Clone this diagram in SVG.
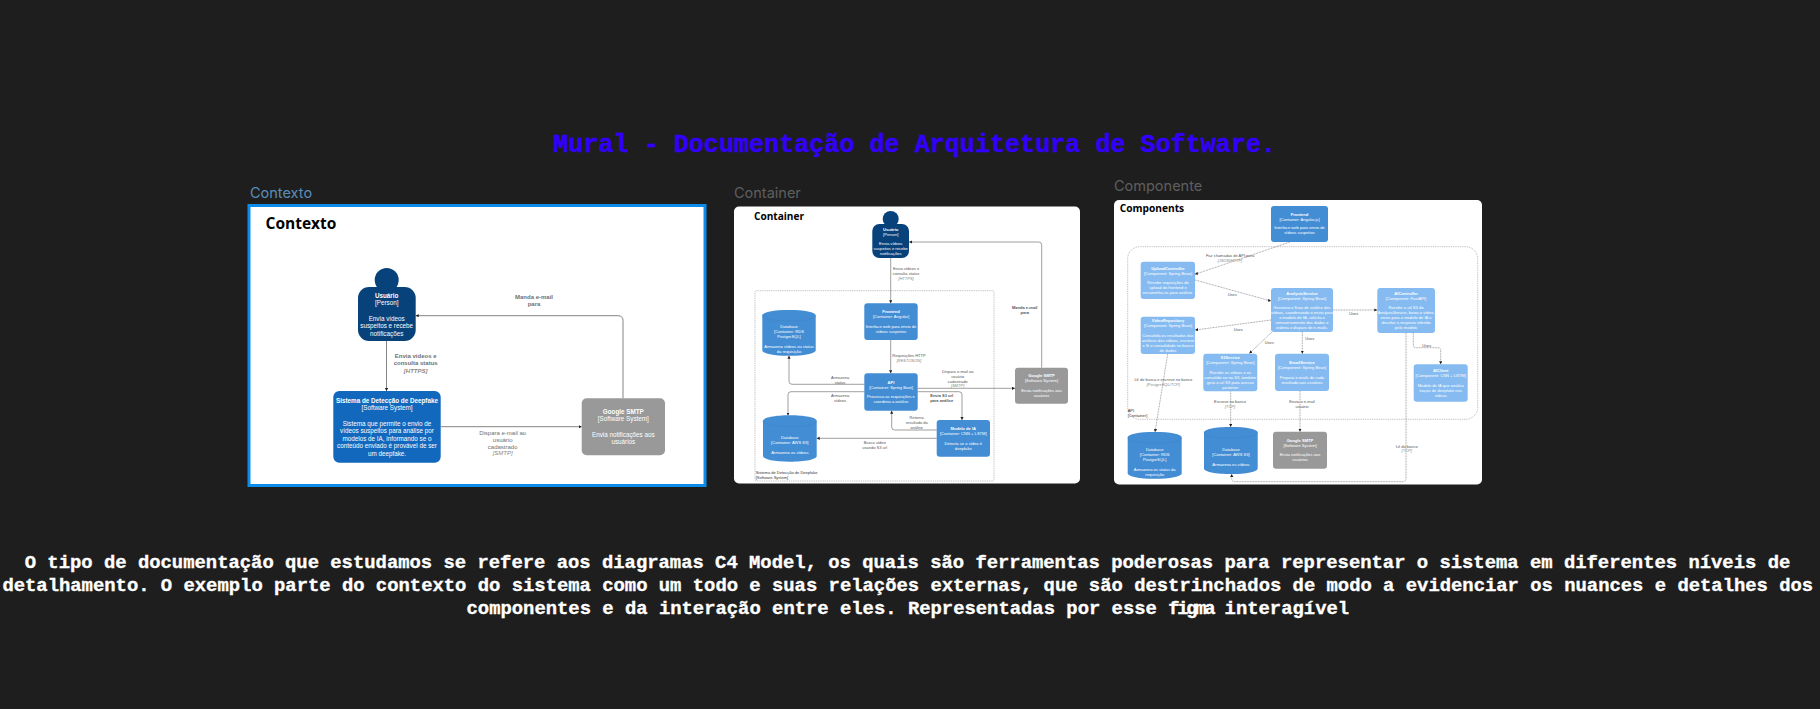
<svg xmlns="http://www.w3.org/2000/svg" width="1820" height="709" viewBox="0 0 1820 709">
<style>
text{font-family:"Liberation Sans",Arial,sans-serif}
text.h{font-family:"Liberation Mono",monospace;font-weight:700;text-anchor:middle;stroke-width:.35px}
text.ttl{font-size:25.1px;fill:#3300ff;stroke:#3300ff}
text.body{font-size:18.87px;fill:#fff;stroke:#fff}
text.cap{font-family:Inter,"Liberation Sans",sans-serif;font-size:14.500px}
text.pt{font-family:"Open Sans","Noto Sans",sans-serif;font-weight:700;fill:#000}
.n{fill:#fff;text-anchor:middle;font-size:4.1px}
.n1{font-size:6.3px}
.nb{font-weight:700}
.person{fill:#08427b}.sys{fill:#1168bd}.con{fill:#438dd5}.cmp{fill:#85bbf0}.ext{fill:#999}
.cyl{stroke:none}.cyltop{fill:none;stroke:#3c7fc0;stroke-width:.4}
.l{fill:#555;text-anchor:middle;font-size:4px}
.l1{font-size:6px;fill:#707070}
.lb{font-weight:700}
.li{font-style:italic;fill:#888}
.c{fill:none;stroke:#777;stroke-width:.7;marker-end:url(#a)}
.c1{stroke-width:.9}
.d{stroke-dasharray:.9 .7}
.bd{fill:none;stroke:#888;stroke-width:.6;stroke-dasharray:.9 .9}
.bt{fill:#333;font-size:4px}
</style>
<defs>
<marker id="a" markerUnits="userSpaceOnUse" markerWidth="4" markerHeight="4" refX="3" refY="1.6" orient="auto"><path d="M0 0L3 1.6L0 3.2z" fill="#222"/></marker>
</defs>
<rect width="1820" height="709" fill="#1e1e1e"/>
<text class="h ttl" x="914.700" y="152">Mural - Documentação de Arquitetura de Software.</text>
<text class="cap" x="250" y="198" fill="#5b8fb9">Contexto</text>
<text class="cap" x="734" y="198" fill="#5f5f5f">Container</text>
<text class="cap" x="1114" y="191" fill="#5f5f5f">Componente</text>
<text class="h body" x="907.500" y="568">O tipo de documentação que estudamos se refere aos diagramas C4 Model, os quais são ferramentas poderosas para representar o sistema em diferentes níveis de</text>
<text class="h body" x="907.800" y="591">detalhamento. O exemplo parte do contexto do sistema como um todo e suas relações externas, que são destrinchados de modo a evidenciar os nuances e detalhes dos</text>
<text class="h body" x="907.800" y="613.500">componentes e da interação entre eles. Representadas por esse <tspan letter-spacing="-2.300">figma</tspan> interagível</text>

<!-- Contexto -->
<g id="panel-contexto">
<rect x="249" y="205.500" width="456" height="280" fill="#fff" stroke="#0c8ce9" stroke-width="3"/>
<text class="pt" x="265.500" y="229" font-size="15.500">Contexto</text>
</g>
<g id="connectors-contexto">
<path class="c c1" d="M386.500 341V391"/>
<path class="c c1" d="M440.700 426.700H581.700"/>
<path class="c c1" d="M623 398V320.700Q623 315.700 618 315.700H415.700"/>
<text class="l l1 lb"><tspan x="534" y="299">Manda e-mail</tspan><tspan x="534" y="306.300">para</tspan></text>
<text class="l l1 lb"><tspan x="415.700" y="357.700">Envia vídeos e</tspan><tspan x="415.700" y="365.300">consulta status</tspan><tspan class="li" x="415.700" y="372.800">[HTTPS]</tspan></text>
<text class="l l1"><tspan x="502.700" y="434.700">Dispara e-mail ao</tspan><tspan x="502.700" y="441.500">usuário</tspan><tspan x="502.700" y="448.500">cadastrado</tspan><tspan class="li" x="502.700" y="455.300">[SMTP]</tspan></text>
</g>
<g id="ctx-usuario">
<circle class="person" cx="386.700" cy="280" r="12"/>
<rect class="person" x="358" y="287" width="57.700" height="54" rx="11"/>
<text class="n n1"><tspan class="nb" x="386.700" y="297.700">Usuário</tspan><tspan x="386.700" y="305">[Person]</tspan><tspan x="386.700" y="320.700">Envia vídeos</tspan><tspan x="386.700" y="328">suspeitos e recebe</tspan><tspan x="386.700" y="335.500">notificações</tspan></text>
</g>
<g id="ctx-sistema">
<rect class="sys" x="333.300" y="391" width="107.400" height="71.700" rx="6"/>
<text class="n n1"><tspan class="nb" x="387" y="402.700">Sistema de Detecção de Deepfake</tspan><tspan x="387" y="410">[Software System]</tspan><tspan x="387" y="425.700">Sistema que permite o envio de</tspan><tspan x="387" y="433.200">vídeos suspeitos para análise por</tspan><tspan x="387" y="440.700">modelos de IA, informando se o</tspan><tspan x="387" y="448.200">conteúdo enviado é provável de ser</tspan><tspan x="387" y="455.500">um deepfake.</tspan></text>
</g>
<g id="ctx-smtp">
<rect class="ext" x="581.700" y="398.300" width="83.300" height="57" rx="5"/>
<text class="n n1"><tspan class="nb" x="623.300" y="413.700">Google SMTP</tspan><tspan x="623.300" y="421.300">[Software System]</tspan><tspan x="623.300" y="436.700">Envia notificações aos</tspan><tspan x="623.300" y="444">usuários</tspan></text>
</g>

<!-- Container -->
<g id="panel-container">
<rect x="734" y="206.500" width="346" height="277" rx="5" fill="#fff"/>
<text class="pt" x="754" y="220" font-size="10.100">Container</text>
</g>
<g id="boundary-sistema">
<rect class="bd" x="755" y="290.700" width="239" height="190.300" rx="1.500"/>
<text class="bt"><tspan x="755.700" y="474">Sistema de Detecção de Deepfake</tspan><tspan x="755.700" y="478.700">[Software System]</tspan></text>
</g>
<g id="connectors-container">
<path class="c" d="M1041.700 367.700V245Q1041.700 242 1038.700 242H909"/>
<path class="c" d="M890.700 258V303.300"/>
<path class="c" d="M890.700 340V373.300"/>
<path class="c" d="M864.300 384.300H792Q789 384.300 789 381.300V355.700"/>
<path class="c" d="M864.300 391.700H791Q788 391.700 788 394.700V415.500"/>
<path class="c" d="M936.700 430H894.700Q891.700 430 891.700 427V410.700"/>
<path class="c" d="M917.700 391.700H959Q962 391.700 962 394.700V420"/>
<path class="c" d="M917.700 388.300H1015"/>
<path class="c" d="M936.700 438.300H816.700"/>
<text class="l lb"><tspan x="1024.700" y="309">Manda e-mail</tspan><tspan x="1024.700" y="314">para</tspan></text>
<text class="l"><tspan x="906" y="270.300">Envia vídeos e</tspan><tspan x="906" y="275.300">consulta status</tspan><tspan class="li" x="906" y="280.300">[HTTPS]</tspan></text>
<text class="l"><tspan x="909" y="357">Requisições HTTP</tspan><tspan class="li" x="909" y="362">[REST/JSON]</tspan></text>
<text class="l"><tspan x="840" y="379">Armazena</tspan><tspan x="840" y="383.700">status</tspan></text>
<text class="l"><tspan x="840" y="397.300">Armazena</tspan><tspan x="840" y="402">vídeos</tspan></text>
<text class="l"><tspan x="874.700" y="444">Busca vídeo</tspan><tspan x="874.700" y="449">usando S3 url</tspan></text>
<text class="l"><tspan x="916.700" y="419">Retorna</tspan><tspan x="916.700" y="424">resultado da</tspan><tspan x="916.700" y="429">análise</tspan></text>
<text class="l lb"><tspan x="941.700" y="397.300">Envia S3 url</tspan><tspan x="941.700" y="402.300">para análise</tspan></text>
<text class="l"><tspan x="957.700" y="373">Dispara e-mail ao</tspan><tspan x="957.700" y="378">usuário</tspan><tspan x="957.700" y="382.500">cadastrado</tspan><tspan class="li" x="957.700" y="387">[SMTP]</tspan></text>
</g>
<g id="con-usuario">
<circle class="person" cx="890.700" cy="219" r="8"/>
<rect class="person" x="872.300" y="224" width="36.700" height="34" rx="7"/>
<text class="n"><tspan class="nb" x="890.700" y="231">Usuário</tspan><tspan x="890.700" y="236">[Person]</tspan><tspan x="890.700" y="245">Envia vídeos</tspan><tspan x="890.700" y="250">suspeitos e recebe</tspan><tspan x="890.700" y="255">notificações</tspan></text>
</g>
<g id="con-frontend">
<rect class="con" x="864.300" y="303.300" width="53.400" height="36.700" rx="3"/>
<text class="n"><tspan class="nb" x="891" y="313">Frontend</tspan><tspan x="891" y="318">[Container: Angular]</tspan><tspan x="891" y="327.500">Interface web para envio de</tspan><tspan x="891" y="332.500">vídeos suspeitos</tspan></text>
</g>
<g id="con-db-rds">
<path class="con cyl" d="M762.300 315.500C762.300 312 774 310 789 310S815.700 312 815.700 315.500V350.200C815.700 353.700 804 355.700 789 355.700S762.300 353.700 762.300 350.200Z"/>
<path class="cyltop" d="M762.300 315.500C762.300 319 774 321 789 321S815.700 319 815.700 315.500"/>
<text class="n"><tspan x="789" y="328">Database</tspan><tspan x="789" y="333">[Container: RDS</tspan><tspan x="789" y="338">PostgreSQL]</tspan><tspan x="789" y="347.700">Armazena vídeos ou status</tspan><tspan x="789" y="352.500">da requisição</tspan></text>
</g>
<g id="con-api">
<rect class="con" x="864.300" y="373.300" width="53.400" height="37.400" rx="3"/>
<text class="n"><tspan class="nb" x="891" y="384">API</tspan><tspan x="891" y="389">[Container: Spring Boot]</tspan><tspan x="891" y="398">Processa as requisições e</tspan><tspan x="891" y="403">coordena a análise</tspan></text>
</g>
<g id="con-db-s3">
<path class="con cyl" d="M763 421C763 417.500 775 415.300 789.800 415.300S816.700 417.500 816.700 421V456C816.700 459.500 805 461.700 789.800 461.700S763 459.500 763 456Z"/>
<path class="cyltop" d="M763 421C763 424.500 775 426.700 789.800 426.700S816.700 424.500 816.700 421"/>
<text class="n"><tspan x="789.800" y="438.700">Database</tspan><tspan x="789.800" y="443.700">[Container: AWS S3]</tspan><tspan x="789.800" y="453.700">Armazena os vídeos</tspan></text>
</g>
<g id="con-modelo">
<rect class="con" x="936.700" y="420" width="53.300" height="36.700" rx="3"/>
<text class="n"><tspan class="nb" x="963.300" y="430">Modelo de IA</tspan><tspan x="963.300" y="435">[Container: CNN + LSTM]</tspan><tspan x="963.300" y="444.700">Detecta se o vídeo é</tspan><tspan x="963.300" y="449.700">deepfake</tspan></text>
</g>
<g id="con-smtp">
<rect class="ext" x="1015" y="367.700" width="53" height="36" rx="3"/>
<text class="n"><tspan class="nb" x="1041.500" y="377.300">Google SMTP</tspan><tspan x="1041.500" y="382.300">[Software System]</tspan><tspan x="1041.500" y="391.700">Envia notificações aos</tspan><tspan x="1041.500" y="396.700">usuários</tspan></text>
</g>

<!-- Components -->
<g id="panel-components">
<rect x="1114" y="200" width="368" height="284.500" rx="5" fill="#fff"/>
<text class="pt" x="1119.700" y="211.500" font-size="10.200">Components</text>
</g>
<g id="boundary-api">
<rect class="bd" x="1127.700" y="246.700" width="350" height="172.600" rx="12"/>
<text class="bt"><tspan x="1127.700" y="412">API</tspan><tspan x="1127.700" y="417">[Container]</tspan></text>
</g>
<g id="connectors-components">
<path class="c d" d="M1290 242L1195 274.300"/>
<path class="c d" d="M1195 280L1271 301"/>
<path class="c d" d="M1271 320L1195 330"/>
<path class="c d" d="M1272 332L1249.300 353.500"/>
<path class="c d" d="M1302.300 332V353.700"/>
<path class="c d" d="M1333 310H1377.300"/>
<path class="c d" d="M1413.300 333V345Q1413.300 347.700 1416 347.700H1438Q1440.700 347.700 1440.700 350.400V364.300"/>
<path class="c d" d="M1406 333V478Q1406 481.700 1402.500 481.700H1235Q1231.700 481.700 1231.700 478.500V474"/>
<path class="c d" d="M1167.700 354L1155 432"/>
<path class="c d" d="M1230.700 391.300V427"/>
<path class="c d" d="M1300 391V431.700"/>
<text class="l"><tspan x="1230" y="257">Faz chamadas de API para</tspan><tspan class="li" x="1230" y="262">[JSON/HTTP]</tspan></text>
<text class="l" x="1232.300" y="296">Uses</text>
<text class="l" x="1238.300" y="330.700">Uses</text>
<text class="l" x="1269.300" y="343.700">Uses</text>
<text class="l" x="1353.700" y="315">Uses</text>
<text class="l" x="1309.700" y="339.500">Uses</text>
<text class="l" x="1426.700" y="347">Uses</text>
<text class="l"><tspan x="1163.300" y="380.700">Lê de busca e escreve no banco</tspan><tspan class="li" x="1163.300" y="385.700">[PostgreSQL/TCP]</tspan></text>
<text class="l"><tspan x="1230" y="403">Escreve no banco</tspan><tspan class="li" x="1230" y="408">[TCP]</tspan></text>
<text class="l"><tspan x="1302" y="403">Envia o e-mail</tspan><tspan x="1302" y="407.500">usuário</tspan></text>
<text class="l"><tspan x="1406.700" y="448.400">Lê do banco</tspan><tspan class="li" x="1406.700" y="452.400">[TCP]</tspan></text>
</g>
<g id="cmp-frontend">
<rect class="con" x="1271" y="206" width="57" height="36" rx="3"/>
<text class="n"><tspan class="nb" x="1299.500" y="215.700">Frontend</tspan><tspan x="1299.500" y="220.700">[Container: Angular.js]</tspan><tspan x="1299.500" y="229.300">Interface web para envio de</tspan><tspan x="1299.500" y="234">vídeos suspeitos</tspan></text>
</g>
<g id="cmp-upload">
<rect class="cmp" x="1140.700" y="261.700" width="54.300" height="37.300" rx="3"/>
<text class="n"><tspan class="nb" x="1168" y="269.700">UploadController</tspan><tspan x="1168" y="274.700">[Component: Spring Bean]</tspan><tspan x="1168" y="284">Recebe requisições de</tspan><tspan x="1168" y="289">upload do frontend e</tspan><tspan x="1168" y="294">encaminha-os para análise.</tspan></text>
</g>
<g id="cmp-videorepo">
<rect class="cmp" x="1140.700" y="316.700" width="54.300" height="37.300" rx="3"/>
<text class="n"><tspan class="nb" x="1168" y="322">VideoRepository</tspan><tspan x="1168" y="327">[Component: Spring Bean]</tspan><tspan x="1168" y="336.700">Consolida os resultados das</tspan><tspan x="1168" y="341.700">análises dos vídeos, escreve</tspan><tspan x="1168" y="346.700">e lê o consolidado no banco</tspan><tspan x="1168" y="351.500">de dados</tspan></text>
</g>
<g id="cmp-analysis">
<rect class="cmp" x="1271" y="288" width="62" height="44" rx="3"/>
<text class="n"><tspan class="nb" x="1302" y="294.500">AnalysisService</tspan><tspan x="1302" y="299.700">[Component: Spring Bean]</tspan><tspan x="1302" y="308.700">Gerencia o fluxo de análise dos</tspan><tspan x="1302" y="313.700">vídeos, coordenando o envio para</tspan><tspan x="1302" y="318.700">o modelo de IA, solicita o</tspan><tspan x="1302" y="323.700">armazenamento dos dados e</tspan><tspan x="1302" y="328.700">ordena o disparo de e-mails.</tspan></text>
</g>
<g id="cmp-aicontroller">
<rect class="cmp" x="1377.300" y="288" width="57.700" height="45" rx="3"/>
<text class="n"><tspan class="nb" x="1406" y="294.500">AIController</tspan><tspan x="1406" y="299.700">[Component: FastAPI]</tspan><tspan x="1406" y="309">Recebe a url S3 do</tspan><tspan x="1406" y="314">AnalysisService, baixa o vídeo,</tspan><tspan x="1406" y="319">envia para o modelo de IA e</tspan><tspan x="1406" y="324">devolve a resposta inferida</tspan><tspan x="1406" y="329">pelo modelo</tspan></text>
</g>
<g id="cmp-s3service">
<rect class="cmp" x="1203.300" y="353.700" width="54" height="37.600" rx="3"/>
<text class="n"><tspan class="nb" x="1230.300" y="359.400">S3Service</tspan><tspan x="1230.300" y="364.400">[Component: Spring Bean]</tspan><tspan x="1230.300" y="373.700">Recebe os vídeos e os</tspan><tspan x="1230.300" y="378.700">consolida no no S3, também</tspan><tspan x="1230.300" y="383.700">gera a url S3 para acesso</tspan><tspan x="1230.300" y="388.700">posterior</tspan></text>
</g>
<g id="cmp-email">
<rect class="cmp" x="1275" y="353.700" width="54" height="37.300" rx="3"/>
<text class="n"><tspan class="nb" x="1302" y="364">EmailService</tspan><tspan x="1302" y="369">[Component: Spring Bean]</tspan><tspan x="1302" y="378.700">Prepara e-mails de cada</tspan><tspan x="1302" y="383.700">resultado aos usuários</tspan></text>
</g>
<g id="cmp-aiclient">
<rect class="cmp" x="1413.700" y="364.300" width="54" height="37.400" rx="3"/>
<text class="n"><tspan class="nb" x="1440.700" y="372.400">AIClient</tspan><tspan x="1440.700" y="377.400">[Component: CNN + LSTM]</tspan><tspan x="1440.700" y="386.700">Modelo de IA que analisa</tspan><tspan x="1440.700" y="391.700">traços de deepfake nos</tspan><tspan x="1440.700" y="396.700">vídeos</tspan></text>
</g>
<g id="cmp-db-rds">
<path class="con cyl" d="M1127.700 437.500C1127.700 434 1139 432 1154.700 432S1181.700 434 1181.700 437.500V473.200C1181.700 476.700 1170 478.700 1154.700 478.700S1127.700 476.700 1127.700 473.200Z"/>
<path class="cyltop" d="M1127.700 437.500C1127.700 441 1139 443 1154.700 443S1181.700 441 1181.700 437.500"/>
<text class="n"><tspan x="1154.700" y="451.400">Database</tspan><tspan x="1154.700" y="456.400">[Container: RDS</tspan><tspan x="1154.700" y="461.400">PostgreSQL]</tspan><tspan x="1154.700" y="470.700">Armazena os status da</tspan><tspan x="1154.700" y="475.700">requisição</tspan></text>
</g>
<g id="cmp-db-s3">
<path class="con cyl" d="M1204 432.500C1204 429 1216 427 1231 427S1257.700 429 1257.700 432.500V468.500C1257.700 472 1246 474 1231 474S1204 472 1204 468.500Z"/>
<path class="cyltop" d="M1204 432.500C1204 436 1216 438 1231 438S1257.700 436 1257.700 432.500"/>
<text class="n"><tspan x="1231" y="450.700">Database</tspan><tspan x="1231" y="455.700">[Container: AWS S3]</tspan><tspan x="1231" y="465.700">Armazena os vídeos</tspan></text>
</g>
<g id="cmp-smtp">
<rect class="ext" x="1273" y="431.700" width="54" height="37" rx="3"/>
<text class="n"><tspan class="nb" x="1300" y="442">Google SMTP</tspan><tspan x="1300" y="447">[Software System]</tspan><tspan x="1300" y="456.400">Envia notificações aos</tspan><tspan x="1300" y="461.400">usuários</tspan></text>
</g>
</svg>
